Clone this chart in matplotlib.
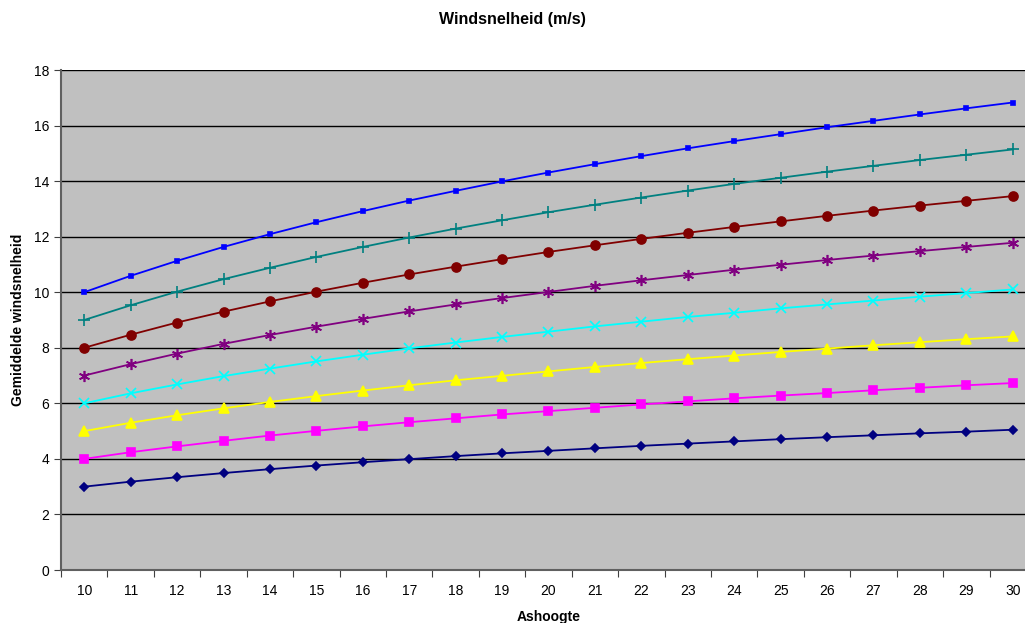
import matplotlib
matplotlib.use("Agg")
import matplotlib.pyplot as plt
import numpy as np

plt.rcParams['font.family'] = ['Liberation Sans', 'DejaVu Sans']

# Ashoogte (m) on the x axis, categories
heights = [10, 11, 12, 13, 14, 15, 16, 17, 18, 19, 20,
           21, 22, 23, 24, 25, 26, 27, 28, 29, 30]

# mean wind speed per series
v10 = [10.00, 10.59, 11.13, 11.63, 12.09, 12.52, 12.92, 13.30, 13.65, 13.99, 14.31,
       14.61, 14.90, 15.18, 15.44, 15.69, 15.94, 16.17, 16.40, 16.62, 16.83]
v9 = [9.00, 9.53, 10.02, 10.47, 10.88, 11.27, 11.63, 11.97, 12.29, 12.59, 12.88,
      13.15, 13.41, 13.66, 13.90, 14.12, 14.34, 14.55, 14.76, 14.95, 15.14]
v8 = [8.00, 8.47, 8.91, 9.30, 9.67, 10.02, 10.34, 10.64, 10.92, 11.19, 11.45,
      11.69, 11.92, 12.14, 12.35, 12.55, 12.75, 12.94, 13.12, 13.29, 13.46]
v7 = [7.00, 7.41, 7.79, 8.14, 8.46, 8.76, 9.04, 9.31, 9.56, 9.79, 10.01,
      10.23, 10.43, 10.62, 10.81, 10.99, 11.16, 11.32, 11.48, 11.63, 11.78]
v6 = [6.00, 6.36, 6.68, 6.98, 7.25, 7.51, 7.75, 7.98, 8.19, 8.39, 8.58,
      8.77, 8.94, 9.11, 9.26, 9.42, 9.56, 9.70, 9.84, 9.97, 10.10]
v5 = [5.00, 5.30, 5.57, 5.82, 6.05, 6.26, 6.46, 6.65, 6.83, 6.99, 7.15,
      7.31, 7.45, 7.59, 7.72, 7.85, 7.97, 8.09, 8.20, 8.31, 8.41]
v4 = [4.00, 4.24, 4.45, 4.65, 4.84, 5.01, 5.17, 5.32, 5.46, 5.60, 5.72,
      5.84, 5.96, 6.07, 6.18, 6.28, 6.37, 6.47, 6.56, 6.65, 6.73]
v3 = [3.00, 3.18, 3.34, 3.49, 3.63, 3.76, 3.88, 3.99, 4.10, 4.20, 4.29,
      4.38, 4.47, 4.55, 4.63, 4.71, 4.78, 4.85, 4.92, 4.98, 5.05]

series = [
    (v10, '#0000FF', 's', 2.5),
    (v9, '#008080', '+', 8),
    (v8, '#800000', 'o', 6.5),
    (v7, '#800080', (6, 2, 0), 8),
    (v6, '#00FFFF', 'x', 7),
    (v5, '#FFFF00', '^', 6.5),
    (v4, '#FF00FF', 's', 6),
    (v3, '#000080', 'D', 4.5),
]

fig = plt.figure(figsize=(10.25, 6.23), dpi=100)
ax = fig.add_axes([61 / 1025, 53 / 623, 975 / 1025, 500 / 623])
ax.set_facecolor('#C0C0C0')

x = np.arange(len(heights))
for vals, col, mk, ms in series:
    ax.plot(x, vals, color=col, lw=1.3, marker=mk, markersize=ms,
            markeredgewidth=1.2, markerfacecolor=col, markeredgecolor=col, zorder=3)

ax.set_xlim(-0.5, len(heights) - 0.5)
ax.set_ylim(0, 18)
ax.set_yticks(np.arange(0, 19, 2))
ax.yaxis.grid(True, color='black', lw=1)
ax.set_axisbelow(True)

ax.set_xticks(np.arange(-0.5, len(heights), 1))
ax.set_xticklabels([])
ax.set_xticks(x, minor=True)
ax.set_xticklabels([str(h) for h in heights], minor=True)
ax.tick_params(axis='x', which='minor', length=0, pad=10, labelsize=10)
ax.tick_params(axis='x', which='major', length=5, direction='out', color='#404040')
ax.tick_params(axis='y', length=5, direction='out', labelsize=10, color='#404040')

for side in ['top', 'right']:
    ax.spines[side].set_visible(False)
for side in ['left', 'bottom']:
    ax.spines[side].set_color('#606060')
    ax.spines[side].set_linewidth(1.5)

ax.set_xlabel('Ashoogte', fontsize=10, fontweight='bold', labelpad=9)
ax.set_ylabel('Gemiddelde windsnelheid', fontsize=10, fontweight='bold', labelpad=6)
fig.suptitle('Windsnelheid (m/s)', x=0.5, y=0.98, fontsize=11.5, fontweight='bold')

fig.savefig('out.png', dpi=100)
